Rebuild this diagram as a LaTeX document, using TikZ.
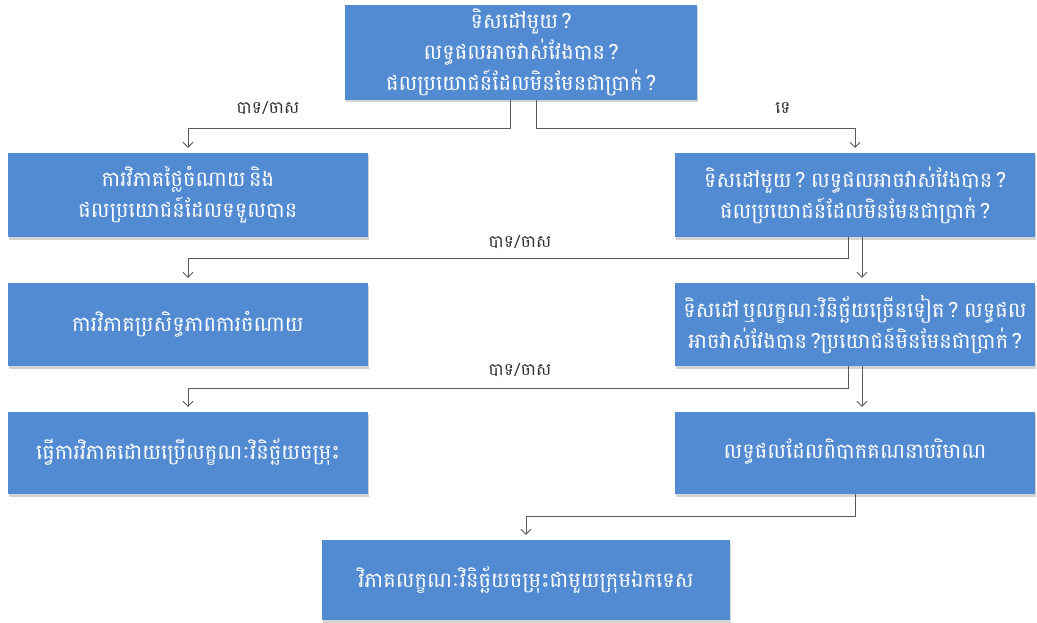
\documentclass[tikz,border=0pt]{standalone}
\usepackage{fontspec}
\newfontfamily\khmer[Script=Khmer,WordSpace=0.5]{Battambang}
\usetikzlibrary{arrows.meta,shadows}
\definecolor{boxblue}{RGB}{82,139,210}
\definecolor{linegray}{RGB}{90,90,90}
\tikzset{
  qbox/.style={fill=boxblue, text=white, align=center, inner sep=0pt,
    font=\khmer\fontsize{21}{31}\selectfont,
    drop shadow={shadow xshift=1pt, shadow yshift=-2.5pt, opacity=0.35}},
  link/.style={draw=linegray, line width=0.8pt, -{Straight Barb[length=5pt,width=10pt]}, shorten >=5pt},
  ans/.style={font=\khmer\fontsize{17}{19}\selectfont, text=black!80}
}
\begin{document}
\begin{tikzpicture}[x=1pt,y=-1pt]
\useasboundingbox (0,0) rectangle (1037,623);
% boxes
\node[qbox, minimum width=352pt, minimum height=95pt] (q1) at (521,52.5) {ទិសដៅមួយ ?\\លទ្ធផលអាចវាស់វែងបាន ?\\ផលប្រយោជន៍ដែលមិនមែនជាប្រាក់ ?};
\node[qbox, minimum width=360pt, minimum height=84pt] (ca) at (188,195) {ការវិភាគថ្លៃចំណាយ និង\\ផលប្រយោជន៍ដែលទទួលបាន};
\node[qbox, minimum width=360pt, minimum height=84pt] (q2) at (855,195) {ទិសដៅមួយ ? លទ្ធផលអាចវាស់វែងបាន ?\\ផលប្រយោជន៍ដែលមិនមែនជាប្រាក់ ?};
\node[qbox, minimum width=360pt, minimum height=83pt] (ce) at (188,324.5) {ការវិភាគប្រសិទ្ធភាពការចំណាយ};
\node[qbox, minimum width=360pt, minimum height=83pt] (q3) at (855,324.5) {ទិសដៅ ឬលក្ខណៈវិនិច្ឆ័យច្រើនទៀត ? លទ្ធផល\\អាចវាស់វែងបាន ?ប្រយោជន៍មិនមែនជាប្រាក់ ?};
\node[qbox, minimum width=360pt, minimum height=82pt, text depth=8pt] (mc) at (188,453) {ធ្វើការវិភាគដោយប្រើលក្ខណៈវិនិច្ឆ័យចម្រុះ};
\node[qbox, minimum width=360pt, minimum height=82pt, text depth=8pt] (hq) at (855,453) {លទ្ធផលដែលពិបាកគណនាបរិមាណ};
\node[qbox, minimum width=408pt, minimum height=80pt] (ex) at (526,580) {វិភាគលក្ខណៈវិនិច្ឆ័យចម្រុះជាមួយក្រុមឯកទេស};
% answers
\node[ans] (y1) at (268,108) {បាទ/ចាស};
\node[ans] (n1) at (783,108) {ទេ};
\node[ans] (y2) at (520,242) {បាទ/ចាស};
\node[ans] (y3) at (520,370) {បាទ/ចាស};
% connectors
\draw[link] ([xshift=-11pt]q1.south) -- ++(0,28) -| (ca.north);
\draw[link] ([xshift=15pt]q1.south) -- ++(0,28) -| (q2.north);
\draw[link] ([xshift=-7pt]q2.south) -- ++(0,21) -| (ce.north);
\draw[link] ([xshift=7pt]q2.south) -- ([xshift=7pt]q3.north);
\draw[link] ([xshift=-7pt]q3.south) -- ++(0,22) -| (mc.north);
\draw[link] ([xshift=7pt]q3.south) -- ([xshift=7pt]hq.north);
\draw[link] (hq.south) -- ++(0,22) -| (ex.north);
\end{tikzpicture}
\end{document}
